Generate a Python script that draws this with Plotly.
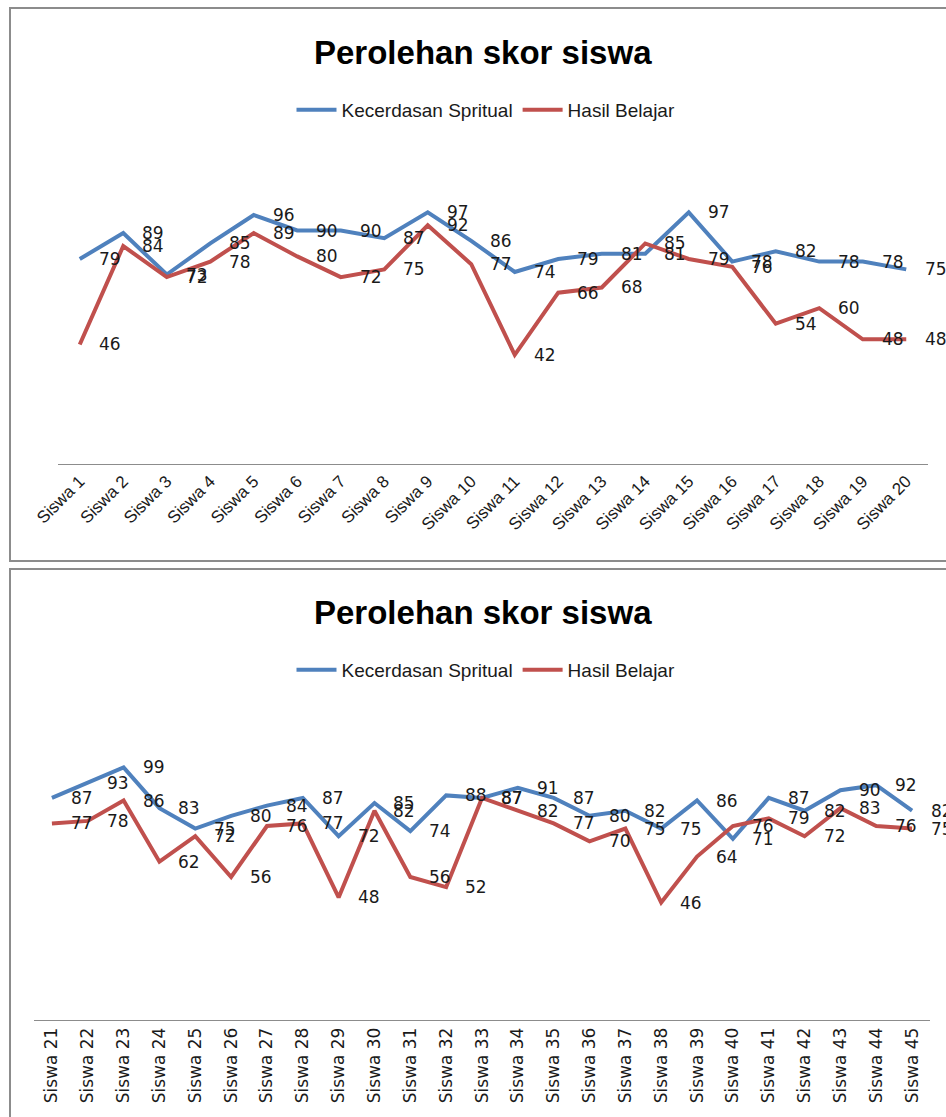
import plotly.graph_objects as go

# ---------------- data ----------------
cats_top = [f"Siswa {i}" for i in range(1, 21)]
spiritual_top = [79, 89, 73, 85, 96, 90, 90, 87, 97, 86, 74, 79, 81, 81, 97, 78, 82, 78, 78, 75]
belajar_top = [46, 84, 72, 78, 89, 80, 72, 75, 92, 77, 42, 66, 68, 85, 79, 76, 54, 60, 48, 48]

cats_bot = [f"Siswa {i}" for i in range(21, 46)]
spiritual_bot = [87, 93, 99, 83, 75, 80, 84, 87, 72, 85, 74, 88, 87, 91, 87, 80, 82, 75, 86, 71, 87, 82, 90, 92, 82]
belajar_bot = [77, 78, 86, 62, 72, 56, 76, 77, 48, 82, 56, 52, 87, 82, 77, 70, 75, 46, 64, 76, 79, 72, 83, 76, 75]

title_text = "Perolehan skor siswa"
name_a = "Kecerdasan Spritual"
name_b = "Hasil Belajar"

BLUE = "#4F81BD"
RED = "#C0504D"
W, H = 946, 1117
SANS = "Liberation Sans, Arial, sans-serif"
LABEL_FONT = dict(family="DejaVu Sans, Verdana, sans-serif", size=17, color="#1a1a1a")

fig = go.Figure()

def add_chart(cats, a, b, xa, ya, legend):
    fig.add_trace(go.Scatter(x=cats, y=a, mode="lines", name=name_a,
                             line=dict(color=BLUE, width=4), xaxis=xa, yaxis=ya,
                             legend=legend, hoverinfo="x+y"))
    fig.add_trace(go.Scatter(x=cats, y=b, mode="lines", name=name_b,
                             line=dict(color=RED, width=4), xaxis=xa, yaxis=ya,
                             legend=legend, hoverinfo="x+y"))
    xref = "x" if xa == "x" else "x2"
    yref = "y" if ya == "y" else "y2"
    for series in (a, b):
        for c, v in zip(cats, series):
            fig.add_annotation(x=c, y=v, xref=xref, yref=yref, text=str(v),
                               showarrow=False, xanchor="left", yanchor="middle",
                               xshift=17, font=LABEL_FONT)

add_chart(cats_top, spiritual_top, belajar_top, "x", "y", "legend")
add_chart(cats_bot, spiritual_bot, belajar_bot, "x2", "y2", "legend2")

def py(p):
    return 1 - p / H

# titles
for yy in (py(53), py(612)):
    fig.add_annotation(x=483 / W, y=yy, xref="paper", yref="paper", text=f"<b>{title_text}</b>",
                       showarrow=False, xanchor="center", yanchor="middle",
                       font=dict(family=SANS, size=33, color="#000000"))

# chart borders
border = dict(color="#8C8C8C", width=2)
fig.add_shape(type="rect", xref="paper", yref="paper", x0=10 / W, x1=1.05, y0=py(561), y1=py(8), line=border)
fig.add_shape(type="rect", xref="paper", yref="paper", x0=10 / W, x1=1.05, y0=-0.05, y1=py(569), line=border)

legend_common = dict(orientation="h", xanchor="center", yanchor="middle", x=486 / W,
                     font=dict(family=SANS, size=19, color="#1a1a1a"),
                     bgcolor="rgba(0,0,0,0)", itemwidth=40)

fig.update_layout(
    width=W, height=H,
    margin=dict(l=0, r=0, t=0, b=0, autoexpand=False),
    paper_bgcolor="white", plot_bgcolor="white",
    showlegend=True,
    legend=dict(**legend_common, y=py(110)),
    legend2=dict(**legend_common, y=py(670)),
    xaxis=dict(domain=[58 / W, 928 / W], anchor="y", type="category", range=[-0.5, 19.5],
               showline=True, linecolor="#8C8C8C", linewidth=1, showgrid=False, zeroline=False,
               ticks="", tickangle=-45, automargin=False,
               tickfont=dict(family=SANS, size=17, color="#1a1a1a")),
    yaxis=dict(domain=[py(463.6), py(152.8)], anchor="x", range=[0, 120], visible=False),
    xaxis2=dict(domain=[34 / W, 930 / W], anchor="y2", type="category", range=[-0.5, 24.5],
                showline=True, linecolor="#8C8C8C", linewidth=1, showgrid=False, zeroline=False,
                ticks="", tickangle=-90, automargin=False,
                tickfont=dict(family="DejaVu Sans, Verdana, sans-serif", size=17, color="#1a1a1a")),
    yaxis2=dict(domain=[py(1019.8), py(713.8)], anchor="x2", range=[0, 120], visible=False),
)

fig.write_html("out.html", config={"displayModeBar": False},
               post_script="document.body.style.margin='0';document.body.style.overflow='hidden';")
